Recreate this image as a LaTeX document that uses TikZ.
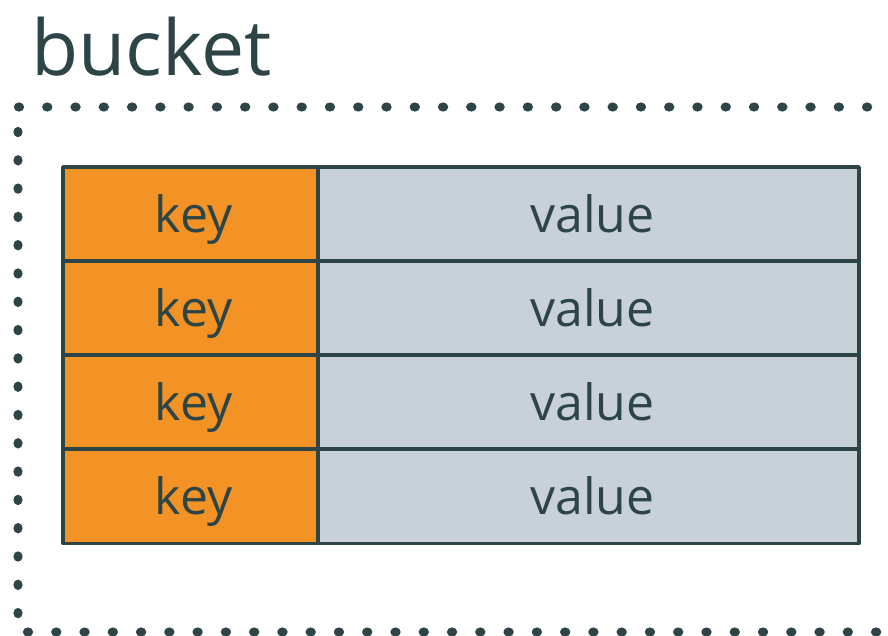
\documentclass[tikz,border=0pt]{standalone}
\usepackage{fontspec}
\setmainfont{Open Sans}
\definecolor{slate}{HTML}{2E4547}
\definecolor{keyorange}{HTML}{F39325}
\definecolor{valgray}{HTML}{C9D1D8}
\tikzset{
	cell/.style={draw=slate, line width=3.5pt, inner sep=0pt, text=slate,
		minimum height=94pt, text height=38pt, text depth=2pt,
		font=\fontsize{50}{58}\selectfont},
	keycell/.style={cell, fill=keyorange, minimum width=255pt},
	valcell/.style={cell, fill=valgray, minimum width=541pt}
}
\begin{document}
\begin{tikzpicture}[x=1pt, y=-1pt, line join=round]
	%%%%%%%%%%%%%%%%%%%%%%%%%%%%%%%%%
	\useasboundingbox (0,0) rectangle (888,635);
	%%%%%%%%%%%%%%%%%%%%%%%%%%%%%%%%%
	\node[anchor=base west, inner sep=0pt, text=slate, font=\fontsize{77}{92}\selectfont] (title) at (31,75) {bucket};
	% dotted frame
	\foreach \k in {0,...,30} {
		\fill[slate] (19+28.27*\k,107) ellipse (5.2 and 4.6);
		\fill[slate] (28+28.27*\k,632) ellipse (5.2 and 4.6);
	}
	\foreach \k in {0,...,17} {
		\fill[slate] (18,132+28.3*\k) ellipse (4.6 and 5.2);
		\fill[slate] (892.5,132+28.3*\k) ellipse (4.6 and 5.2);
	}
	%%%%%%%%%%%%%%%%%%%%%%%%%%%%%%%%%
	\foreach \i/\y in {1/214, 2/308, 3/402, 4/496.5} {
		\node[keycell] (k\i) at (190.5,\y) {\hspace*{6pt}key};
		\node[valcell] (v\i) at (588.5,\y) {\hspace*{8pt}value};
	}
	%%%%%%%%%%%%%%%%%%%%%%%%%%%%%%%%%
\end{tikzpicture}
\end{document}
